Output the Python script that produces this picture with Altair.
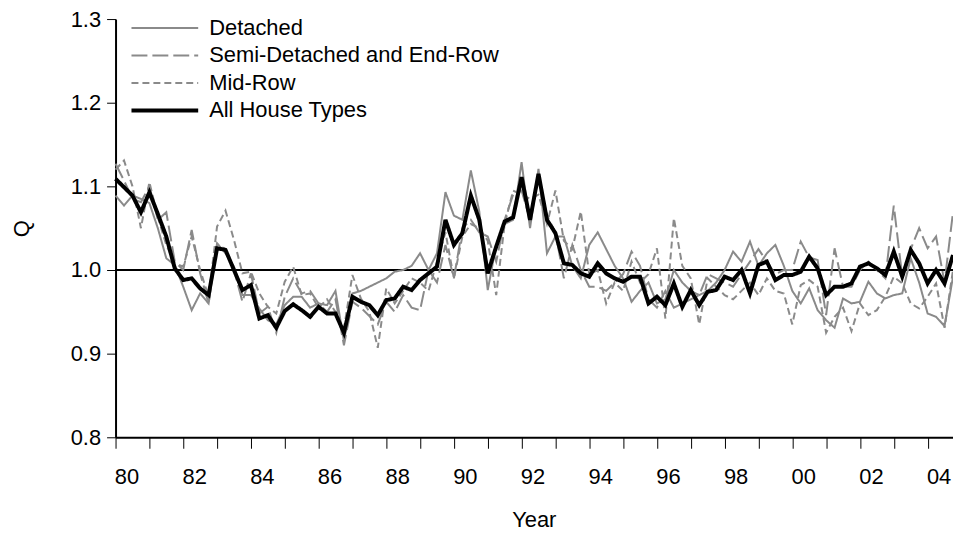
import altair as alt
import pandas as pd

series_names = ["Detached", "Semi-Detached and End-Row", "Mid-Row", "All House Types"]
start_year = 1980  # quarterly observations, 1980 Q1 onwards

detached = [
    1.089, 1.077, 1.089, 1.085, 1.080, 1.050, 1.014, 1.006, 0.980, 0.952,
    0.972, 0.960, 1.032, 1.020, 1.004, 0.970, 0.970, 0.954, 0.940, 0.935,
    0.958, 0.968, 0.968, 0.955, 0.960, 0.958, 0.975, 0.915, 0.972, 0.975,
    0.980, 0.985, 0.990, 0.998, 1.000, 1.005, 1.020, 1.000, 1.020, 1.093,
    1.065, 1.060, 1.119, 1.070, 0.976, 1.030, 1.055, 1.060, 1.129, 1.050,
    1.121, 1.020, 1.040, 1.040, 1.005, 0.990, 1.030, 1.045, 1.025, 1.005,
    0.990, 0.962, 0.975, 0.985, 0.960, 0.965, 1.000, 0.985, 0.975, 0.970,
    0.975, 0.985, 1.000, 1.022, 1.010, 1.034, 1.005, 1.020, 1.030, 1.005,
    0.975, 0.960, 0.978, 0.952, 0.940, 0.931, 0.966, 0.960, 0.962, 0.986,
    0.972, 0.966, 0.970, 0.972, 1.014, 0.985, 0.948, 0.944, 0.933, 0.992,
]
semi = [
    1.127, 1.107, 1.085, 1.081, 1.100, 1.060, 1.069, 1.010, 1.000, 1.048,
    0.996, 0.960, 1.030, 1.025, 1.000, 0.962, 0.996, 0.948, 0.956, 0.925,
    0.968, 0.990, 0.972, 0.975, 0.960, 0.950, 0.965, 0.910, 0.962, 0.955,
    0.945, 0.935, 0.962, 0.950, 0.970, 0.955, 0.952, 1.000, 0.985, 1.030,
    0.990, 1.050, 1.060, 1.045, 1.040, 1.010, 1.060, 1.090, 1.095, 1.060,
    1.110, 1.065, 1.045, 0.990, 1.030, 1.000, 0.980, 0.980, 0.975, 0.985,
    0.995, 1.022, 1.005, 0.965, 0.955, 0.975, 0.955, 0.960, 0.965, 0.970,
    0.995, 0.990, 0.985, 0.980, 0.995, 1.010, 1.025, 1.010, 0.995, 1.000,
    1.000, 1.034, 1.015, 1.012, 0.946, 1.026, 0.980, 0.980, 1.000, 1.010,
    1.000, 0.990, 1.077, 0.992, 1.025, 1.050, 1.026, 1.040, 0.985, 1.069,
]
mid = [
    1.120, 1.131, 1.100, 1.050, 1.105, 1.063, 1.030, 1.008, 1.004, 1.040,
    1.000, 0.968, 1.052, 1.071, 1.036, 0.996, 0.998, 0.972, 0.956, 0.948,
    0.986, 1.004, 0.970, 0.972, 0.955, 0.965, 0.950, 0.930, 0.994, 0.966,
    0.950, 0.907, 0.978, 0.960, 0.975, 0.990, 0.985, 0.975, 1.010, 1.045,
    0.990, 1.040, 1.055, 1.050, 1.035, 0.970, 1.055, 1.095, 1.090, 1.085,
    1.090, 1.055, 1.095, 1.035, 1.025, 1.070, 0.995, 1.000, 0.960, 0.985,
    0.975, 1.010, 0.985, 0.995, 1.026, 0.942, 1.062, 1.005, 0.990, 0.935,
    0.990, 0.980, 0.970, 0.965, 0.975, 0.985, 0.970, 0.990, 0.975, 0.972,
    0.935, 0.982, 0.988, 0.980, 0.925, 0.944, 0.955, 0.927, 0.960, 0.946,
    0.952, 0.968, 0.992, 0.984, 0.960, 0.954, 0.968, 0.984, 0.931, 1.000,
]
all_types = [
    1.109, 1.099, 1.089, 1.069, 1.093, 1.067, 1.040, 1.002, 0.988, 0.990,
    0.978, 0.970, 1.026, 1.024, 1.000, 0.976, 0.982, 0.942, 0.946, 0.931,
    0.951, 0.959, 0.952, 0.944, 0.956, 0.948, 0.948, 0.925, 0.968, 0.962,
    0.958, 0.946, 0.964, 0.966, 0.980, 0.976, 0.988, 0.996, 1.004, 1.060,
    1.030, 1.044, 1.089, 1.060, 0.996, 1.028, 1.058, 1.063, 1.111, 1.060,
    1.115, 1.060, 1.044, 1.008, 1.006, 0.996, 0.992, 1.008, 0.996, 0.990,
    0.986, 0.992, 0.992, 0.960, 0.968, 0.958, 0.984, 0.956, 0.976, 0.958,
    0.974, 0.976, 0.992, 0.988, 1.000, 0.972, 1.006, 1.010, 0.988, 0.994,
    0.994, 0.998, 1.016, 1.002, 0.970, 0.980, 0.980, 0.984, 1.004, 1.008,
    1.002, 0.994, 1.022, 0.992, 1.024, 1.008, 0.984, 1.000, 0.984, 1.018,
]

year_ticks = list(range(1980, 2005))
y_ticks = [0.8, 0.9, 1.0, 1.1, 1.2, 1.3]

rows = []
for name, vals in zip(series_names, [detached, semi, mid, all_types]):
    for q, v in enumerate(vals):
        rows.append({"t": start_year + q / 4, "Q": v, "series": name})
df = pd.DataFrame(rows)

FONT = "Liberation Sans"

legend = alt.Legend(
    title=None, orient="none", legendX=14, legendY=-2,
    symbolType="stroke", symbolSize=4489, clipHeight=22, rowPadding=5.6,
    labelFontSize=22, labelFont=FONT, labelColor="black", labelOffset=9,
    labelLimit=0, padding=0, symbolOpacity=1,
)
color_scale = alt.Scale(domain=series_names, range=["#8a8a8a", "#8a8a8a", "#8a8a8a", "#000000"])
dash_scale = alt.Scale(domain=series_names, range=[[1, 0], [16, 5], [7, 4], [1, 0]])
width_scale = alt.Scale(type="ordinal", domain=series_names, range=[2, 2, 2, 4])

x_enc = alt.X(
    "t:Q",
    scale=alt.Scale(domain=[1980, 2004.75], nice=False, zero=False),
    axis=alt.Axis(
        values=year_ticks, format="d",
        labelExpr="datum.value % 2 == 0 ? substring(toString(datum.value), 2, 4) : ''",
        title="Year", titleX=420, titleY=83, titleBaseline="middle",
        tickSize=11, labelPadding=18, labelOffset=11, labelFlush=False,
        labelOverlap=False,
    ),
)
y_enc = alt.Y(
    "Q:Q",
    scale=alt.Scale(domain=[0.8, 1.3], nice=False, zero=False),
    axis=alt.Axis(
        values=y_ticks, format=".1f", title="Q",
        titleX=-94, titleY=210, titleAlign="center", titleBaseline="middle",
        tickSize=9, labelPadding=6,
    ),
)

enc = dict(
    x=x_enc,
    y=y_enc,
    color=alt.Color("series:N", scale=color_scale, legend=legend, sort=series_names),
    strokeDash=alt.StrokeDash("series:N", scale=dash_scale, legend=legend, sort=series_names),
    strokeWidth=alt.StrokeWidth("series:N", scale=width_scale, legend=legend, sort=series_names),
)

greys = alt.Chart(df).transform_filter(alt.datum.series != "All House Types").mark_line().encode(**enc)
black = alt.Chart(df).transform_filter(alt.datum.series == "All House Types").mark_line().encode(**enc)
rule = alt.Chart(df).mark_rule(color="black", strokeWidth=1).encode(y=alt.datum(1.0))

chart = (
    alt.layer(rule, greys, black)
    .properties(
        width=841, height=420,
        padding={"left": 108, "top": 10, "right": 0, "bottom": 95},
        autosize=alt.AutoSizeParams(type="none"),
    )
    .configure_view(stroke=None)
    .configure_axis(
        labelFont=FONT, titleFont=FONT, labelFontSize=22, titleFontSize=22,
        labelColor="black", titleColor="black", titleFontWeight="normal",
        domainColor="black", domainWidth=2, tickColor="black", tickWidth=1,
        grid=False,
    )
)

chart.save("out.html", embed_options={"renderer": "svg", "actions": False})
